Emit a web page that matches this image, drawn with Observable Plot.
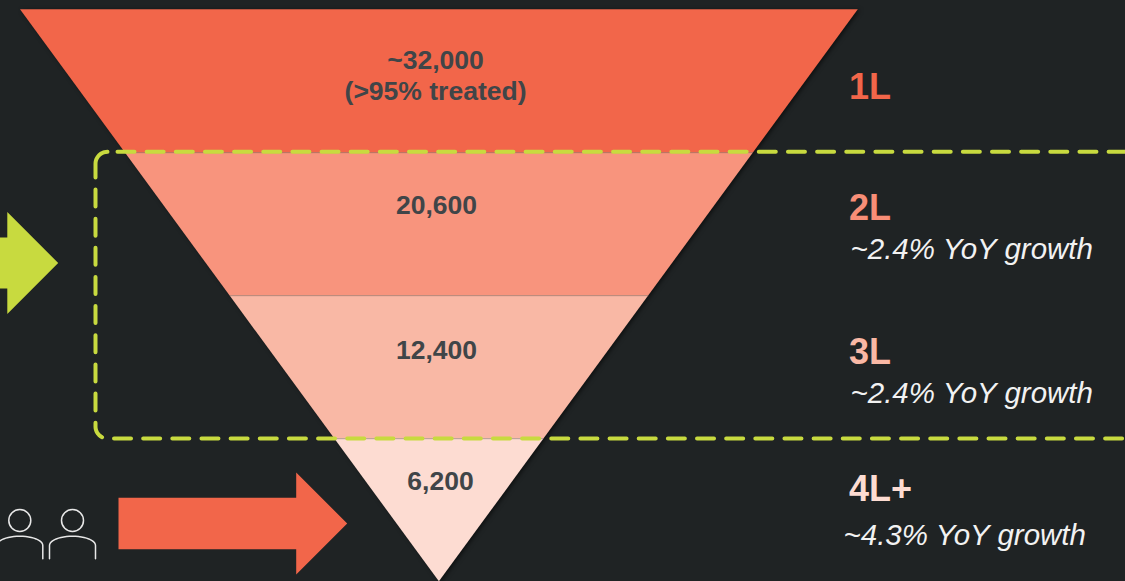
<!DOCTYPE html>
<html>
<head>
<meta charset="utf-8">
<script src="https://cdn.jsdelivr.net/npm/d3@7"></script>
<script src="https://cdn.jsdelivr.net/npm/@observablehq/plot@0.6"></script>
<style>
  html, body { margin: 0; padding: 0; background: #1f2324; }
  svg { display: block; }
</style>
</head>
<body>
<div id="chart"></div>
<script>
// Patients by line of therapy
const tiers = ["1L", "2L", "3L", "4L+"];
const patients = [32000, 20600, 12400, 6200];
const prefixes = ["~", "", "", ""];
const notes = ["(>95% treated)", "", "", ""];
const growth = ["", "~2.4% YoY growth", "~2.4% YoY growth", "~4.3% YoY growth"];
const bandColors = ["#f2664a", "#f8947d", "#f9b8a5", "#fddcd2"];
const tierColors = ["#f2664a", "#f88e77", "#f9b8a5", "#fddcd2"];

// Page layout
const W = 1125, H = 581;
const FONT = "Liberation Sans, Arial, sans-serif";
const INK = "#404548", BG = "#1f2324", LIME = "#c8da3f", CORAL = "#f2664a", ICON = "#e8e8e8";

// Funnel geometry: equal-height bands narrowing to a point
const funnelX = 438.9, funnelHalf = 418.9, funnelTop = 9.3, bandStep = 143;
const edge = (lvl) => ({
  y: funnelTop + lvl * bandStep,
  x1: funnelX - funnelHalf * (1 - lvl / tiers.length),
  x2: funnelX + funnelHalf * (1 - lvl / tiers.length)
});
const funnel = tiers.flatMap((tier, i) => [
  {tier, color: bandColors[i], ...edge(i)},
  {tier, color: bandColors[i], ...edge(i + 1)}
]);
const dividers = [1, 2, 3].map((lvl) => edge(lvl));

// Text placement per band
const valueRows = tiers.map((tier, i) => ({
  label: prefixes[i] + d3.format(",")(patients[i]) + (notes[i] ? "\n" + notes[i] : ""),
  x: [435, 436, 436, 440][i],
  y: [74, 203.5, 349, 479.5][i]
}));
const tierRows = tiers.map((tier, i) => ({
  tier, color: tierColors[i], y: [86.5, 207.5, 351.5, 488.5][i]
}));
const growthRows = growth.map((text, i) => ({
  text, x: [851, 850, 850, 843][i], y: [0, 249, 393, 535][i]
})).filter((d) => d.text);

// Rounded corner of the dashed bracket
const arc = (ox, oy, r, a0, a1) => d3.range(0, 13).map((k) => {
  const a = a0 + (a1 - a0) * k / 12;
  return {x: ox + r * Math.cos(a), y: oy + r * Math.sin(a)};
});
const bx = 95, by0 = 151.3, by1 = 438, br = 12;
const cornerTop = [...arc(bx + br, by0 + br, br, -Math.PI / 2, -Math.PI), {x: bx, y: 177}];
const bracketLower = [{x: bx, y: 189}, ...arc(bx + br, by1 - br, br, Math.PI, Math.PI / 2), {x: W, y: by1}];
const bracketTop = [{x: 117, y: by0}, {x: W, y: by0}];

// Block arrows
const arrow = (x0, xNeck, xTip, yc, body, head) => [
  {x: x0, y: yc - body}, {x: xNeck, y: yc - body}, {x: xNeck, y: yc - head},
  {x: xTip, y: yc}, {x: xNeck, y: yc + head}, {x: xNeck, y: yc + body}, {x: x0, y: yc + body}
];
const limeArrow = arrow(-5, 6.8, 57.7, 262.5, 25.5, 51);
const coralArrow = arrow(118, 295.7, 346.7, 523, 25.7, 51);

// Patient pictogram
const heads = [{x: 19.3, y: 520}, {x: 72, y: 520}];
const shoulders = heads.map((h) => [
  {x: h.x - 23, y: 558.3},
  ...d3.range(0, 25).map((k) => {
    const a = -Math.PI / 2 + Math.PI * k / 24;
    return {x: h.x + 23 * Math.sin(a), y: 545 - 9.3 * Math.cos(a)};
  }),
  {x: h.x + 23, y: 558.3}
]);

const xy = {x: "x", y: "y"};
const dash = "17,12.15";

const plot = Plot.plot({
  width: W,
  height: H,
  margin: 0,
  style: {background: BG, overflow: "hidden"},
  x: {domain: [0, W], range: [0, W], axis: null},
  y: {domain: [0, H], range: [0, H], axis: null},
  color: {type: "identity"},
  marks: [
    Plot.areaX(funnel, {
      y: "y", x1: "x1", x2: "x2", z: "tier", fill: "color", curve: "linear",
      imageFilter: "drop-shadow(2px 1px 2px rgba(0,0,0,0.55))"
    }),
    Plot.ruleY(dividers, {y: "y", x1: "x1", x2: "x2", stroke: "#8a6a62", strokeOpacity: 0.3, strokeWidth: 1}),

    Plot.line(cornerTop, {...xy, stroke: LIME, strokeWidth: 4, curve: "linear"}),
    Plot.line(bracketLower, {...xy, stroke: LIME, strokeWidth: 4, strokeDasharray: dash, curve: "linear"}),
    Plot.line(bracketTop, {...xy, stroke: LIME, strokeWidth: 4, strokeDasharray: dash}),

    Plot.line(limeArrow, {...xy, fill: LIME, stroke: null}),
    Plot.line(coralArrow, {...xy, fill: CORAL, stroke: null}),

    Plot.dot(heads, {...xy, r: 11, stroke: ICON, strokeWidth: 1.5, fill: "none"}),
    ...shoulders.map((pts) => Plot.line(pts, {...xy, stroke: ICON, strokeWidth: 1.5, curve: "linear"})),

    Plot.text(valueRows, {
      ...xy, text: "label", fill: INK, fontFamily: FONT, fontWeight: "bold",
      fontSize: 26.5, lineHeight: 1.16
    }),
    Plot.text(tierRows, {
      x: 848.5, y: "y", text: "tier", fill: "color", fontFamily: FONT, fontWeight: "bold",
      fontSize: 36, textAnchor: "start"
    }),
    Plot.text(growthRows, {
      ...xy, text: "text", fill: "#f2f2f2", fontFamily: FONT, fontStyle: "italic",
      fontSize: 29.5, textAnchor: "start"
    })
  ]
});

document.getElementById("chart").append(plot);
</script>
</body>
</html>
